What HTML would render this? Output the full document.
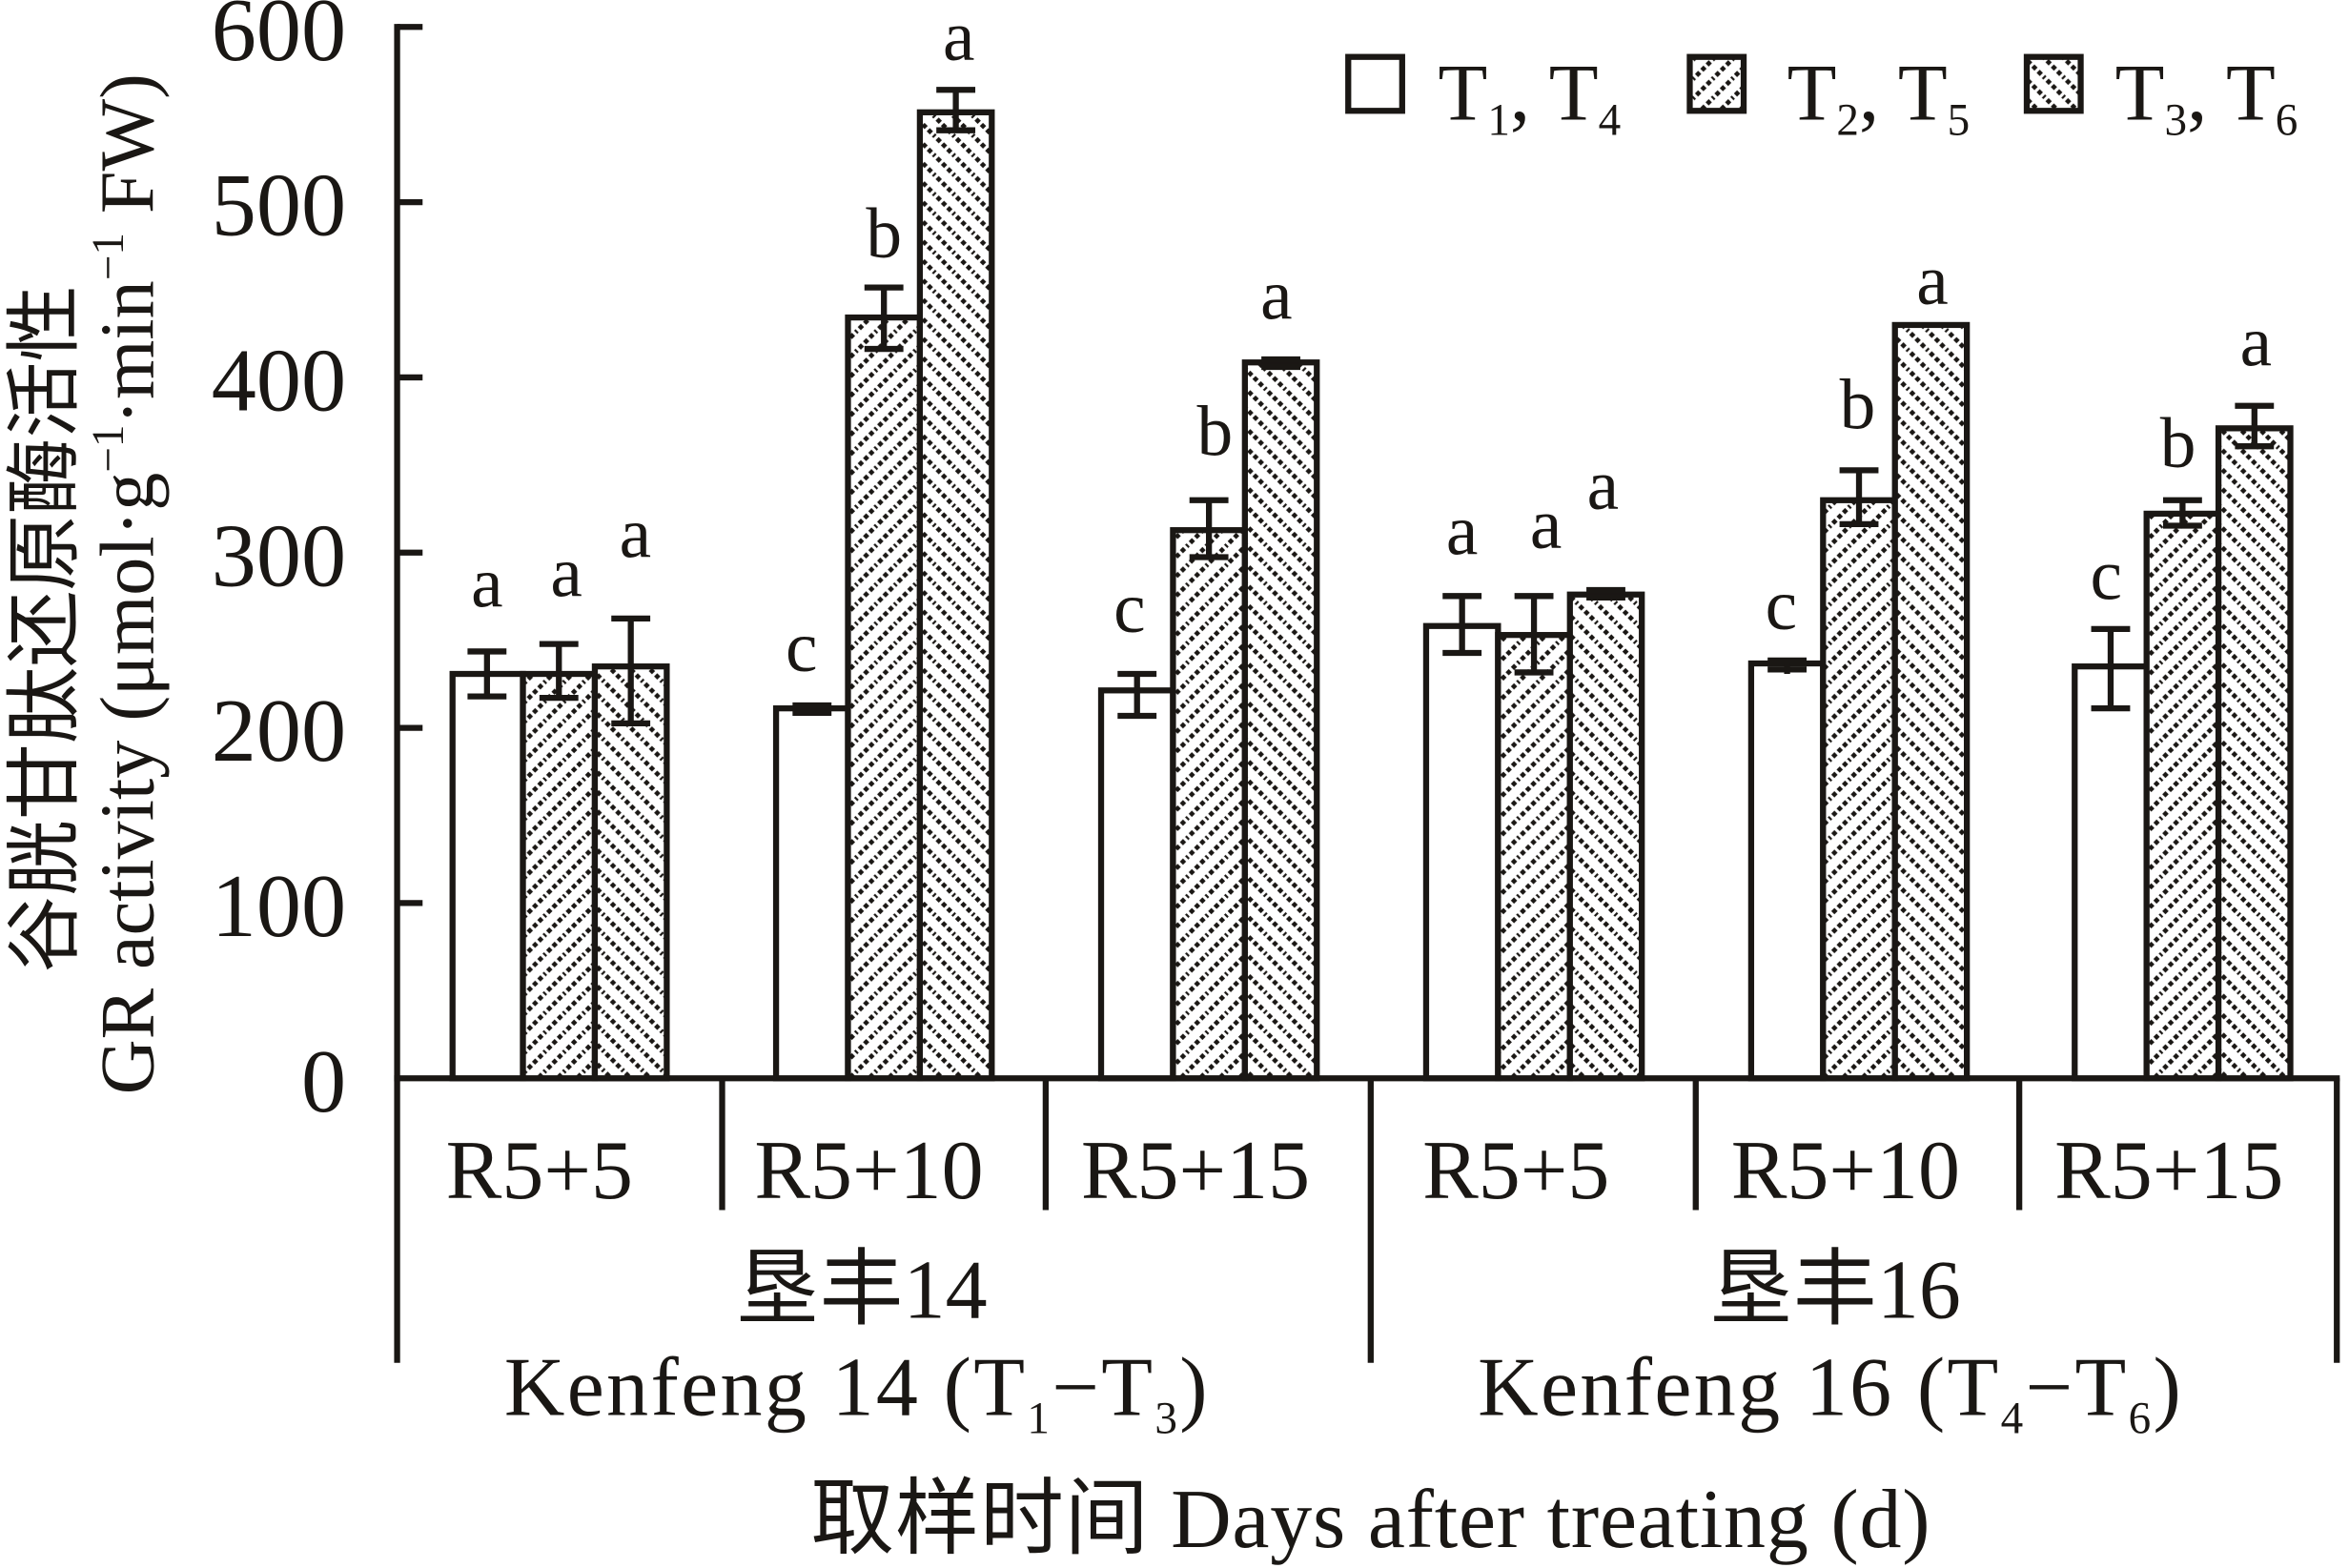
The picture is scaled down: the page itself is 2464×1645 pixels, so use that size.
<!DOCTYPE html>
<html><head><meta charset="utf-8"><style>html,body{margin:0;padding:0;background:#fff}svg{display:block}</style></head>
<body>
<svg width="2464" height="1645" viewBox="0 0 1568 1047" xmlns="http://www.w3.org/2000/svg" font-family="'Liberation Serif','Noto Serif CJK SC',serif" fill="#1a1714">
<defs>
<pattern id="p2" width="13" height="13" patternUnits="userSpaceOnUse">
<rect width="13" height="13" fill="#fff"/>
<path d="M-2,15 L15,-2 M-2,2 L2,-2 M11,15 L15,11" stroke="#1a1714" stroke-width="3" stroke-dasharray="3 2"/>
</pattern>
<pattern id="p3" width="13" height="13" patternUnits="userSpaceOnUse">
<rect width="13" height="13" fill="#fff"/>
<path d="M-2,-2 L15,15 M-2,11 L2,15 M11,-2 L15,2" stroke="#1a1714" stroke-width="3" stroke-dasharray="3 2"/>
</pattern>
</defs>
<g stroke="#1a1714" stroke-width="4" fill="none">
<line x1="265" y1="16" x2="265" y2="910"/>
<line x1="263" y1="720" x2="1562" y2="720"/>
<line x1="265" y1="18" x2="282" y2="18"/>
<line x1="265" y1="135" x2="282" y2="135"/>
<line x1="265" y1="252" x2="282" y2="252"/>
<line x1="265" y1="369" x2="282" y2="369"/>
<line x1="265" y1="486" x2="282" y2="486"/>
<line x1="265" y1="603" x2="282" y2="603"/>
<line x1="482" y1="720" x2="482" y2="808"/>
<line x1="698" y1="720" x2="698" y2="808"/>
<line x1="915" y1="720" x2="915" y2="910"/>
<line x1="1132" y1="720" x2="1132" y2="808"/>
<line x1="1348" y1="720" x2="1348" y2="808"/>
<line x1="1560" y1="720" x2="1560" y2="910"/>
</g>
<g font-size="60" text-anchor="end">
<text x="231" y="40">600</text><text x="231" y="157">500</text><text x="231" y="274">400</text>
<text x="231" y="391">300</text><text x="231" y="508">200</text><text x="231" y="625">100</text><text x="231" y="742">0</text>
</g>
<g stroke="#1a1714" stroke-width="4">
<rect x="302" y="450" width="47" height="270" fill="#fff"/>
<rect x="349" y="450" width="48" height="270" fill="url(#p2)"/>
<rect x="397" y="445" width="48" height="275" fill="url(#p3)"/>
<rect x="518" y="473" width="48" height="247" fill="#fff"/>
<rect x="566" y="212" width="48" height="508" fill="url(#p2)"/>
<rect x="614" y="75" width="48" height="645" fill="url(#p3)"/>
<rect x="735" y="461" width="48" height="259" fill="#fff"/>
<rect x="783" y="354" width="48" height="366" fill="url(#p2)"/>
<rect x="831" y="242" width="48" height="478" fill="url(#p3)"/>
<rect x="952" y="418" width="48" height="302" fill="#fff"/>
<rect x="1000" y="424" width="48" height="296" fill="url(#p2)"/>
<rect x="1048" y="397" width="48" height="323" fill="url(#p3)"/>
<rect x="1169" y="443" width="48" height="277" fill="#fff"/>
<rect x="1217" y="334" width="48" height="386" fill="url(#p2)"/>
<rect x="1265" y="217" width="48" height="503" fill="url(#p3)"/>
<rect x="1385" y="445" width="48" height="275" fill="#fff"/>
<rect x="1433" y="343" width="48" height="377" fill="url(#p2)"/>
<rect x="1481" y="286" width="48" height="434" fill="url(#p3)"/>
</g>
<g stroke="#1a1714" stroke-width="4" fill="none">
<path d="M312,435H338M325,435V465M312,465H338"/>
<path d="M360,430H386M373,430V466M360,466H386"/>
<path d="M408,413H434M421,413V483M408,483H434"/>
<path d="M529,471H555M529,476H555"/>
<path d="M577,192H603M590,192V233M577,233H603"/>
<path d="M625,60H651M638,60V87M625,87H651"/>
<path d="M746,450H772M759,450V478M746,478H772"/>
<path d="M794,334H820M807,334V372M794,372H820"/>
<path d="M842,240H868M842,245H868"/>
<path d="M963,398H989M976,398V436M963,436H989"/>
<path d="M1011,398H1037M1024,398V449M1011,449H1037"/>
<path d="M1059,394H1085M1059,399H1085"/>
<path d="M1180,441H1206M1180,447H1206M1193,441V450"/>
<path d="M1228,314H1254M1241,314V350M1228,350H1254"/>
<path d="M1396,420H1422M1409,420V473M1396,473H1422"/>
<path d="M1444,334H1470M1457,334V351M1444,351H1470"/>
<path d="M1492,271H1518M1505,271V298M1492,298H1518"/>
</g>
<g font-size="48" text-anchor="middle">
<text x="325" y="405">a</text><text x="378" y="398">a</text><text x="424" y="372">a</text>
<text x="535" y="448">c</text><text x="590" y="172">b</text><text x="640" y="40">a</text>
<text x="754" y="422">c</text><text x="811" y="304">b</text><text x="852" y="213">a</text>
<text x="976" y="370">a</text><text x="1032" y="366">a</text><text x="1070" y="340">a</text>
<text x="1189" y="420">c</text><text x="1240" y="286">b</text><text x="1290" y="203">a</text>
<text x="1406" y="400">c</text><text x="1454" y="312">b</text><text x="1506" y="244">a</text>
</g>
<g font-size="56" text-anchor="middle">
<text x="360" y="800">R5+5</text><text x="580" y="800">R5+10</text><text x="798" y="800">R5+15</text>
<text x="1012" y="800">R5+5</text><text x="1232" y="800">R5+10</text><text x="1448" y="800">R5+15</text>
<text x="575" y="880" font-family="'Liberation Serif','Noto Sans CJK SC',sans-serif">垦丰14</text>
<text x="1225" y="880" font-family="'Liberation Serif','Noto Sans CJK SC',sans-serif">垦丰16</text>
<text x="572" y="945" letter-spacing="1.5">Kenfeng 14 (T<tspan font-size="30" dy="12">1</tspan><tspan dy="-12">−T</tspan><tspan font-size="30" dy="12">3</tspan><tspan dy="-12">)</tspan></text>
<text x="1222" y="945" letter-spacing="1.5">Kenfeng 16 (T<tspan font-size="30" dy="12">4</tspan><tspan dy="-12">−T</tspan><tspan font-size="30" dy="12">6</tspan><tspan dy="-12">)</tspan></text>
<text x="915" y="1033" font-family="'Liberation Serif','Noto Sans CJK SC',sans-serif" letter-spacing="0.5">取样时间 Days after treating (d)</text>
</g>
<g font-size="51" text-anchor="middle" font-family="'Liberation Serif','Noto Sans CJK SC',sans-serif">
<text transform="translate(47,420) rotate(-90)">谷胱甘肽还原酶活性</text>
<text transform="translate(102,390) rotate(-90)">GR activity (μmol·g<tspan font-size="30" dy="-20">−1</tspan><tspan dy="20">·min</tspan><tspan font-size="30" dy="-20">−1</tspan><tspan dy="20"> FW)</tspan></text>
</g>
<g stroke="#1a1714" stroke-width="4">
<rect x="900" y="38" width="36" height="36" fill="#fff"/>
<rect x="1128" y="38" width="36" height="36" fill="url(#p2)"/>
<rect x="1353" y="38" width="36" height="36" fill="url(#p3)"/>
</g>
<g font-size="54">
<text x="960" y="80">T<tspan font-size="30" dy="10">1</tspan><tspan dy="-10">, T</tspan><tspan font-size="30" dy="10">4</tspan></text>
<text x="1193" y="80">T<tspan font-size="30" dy="10">2</tspan><tspan dy="-10">, T</tspan><tspan font-size="30" dy="10">5</tspan></text>
<text x="1412" y="80">T<tspan font-size="30" dy="10">3</tspan><tspan dy="-10">, T</tspan><tspan font-size="30" dy="10">6</tspan></text>
</g>
</svg>
</body></html>
